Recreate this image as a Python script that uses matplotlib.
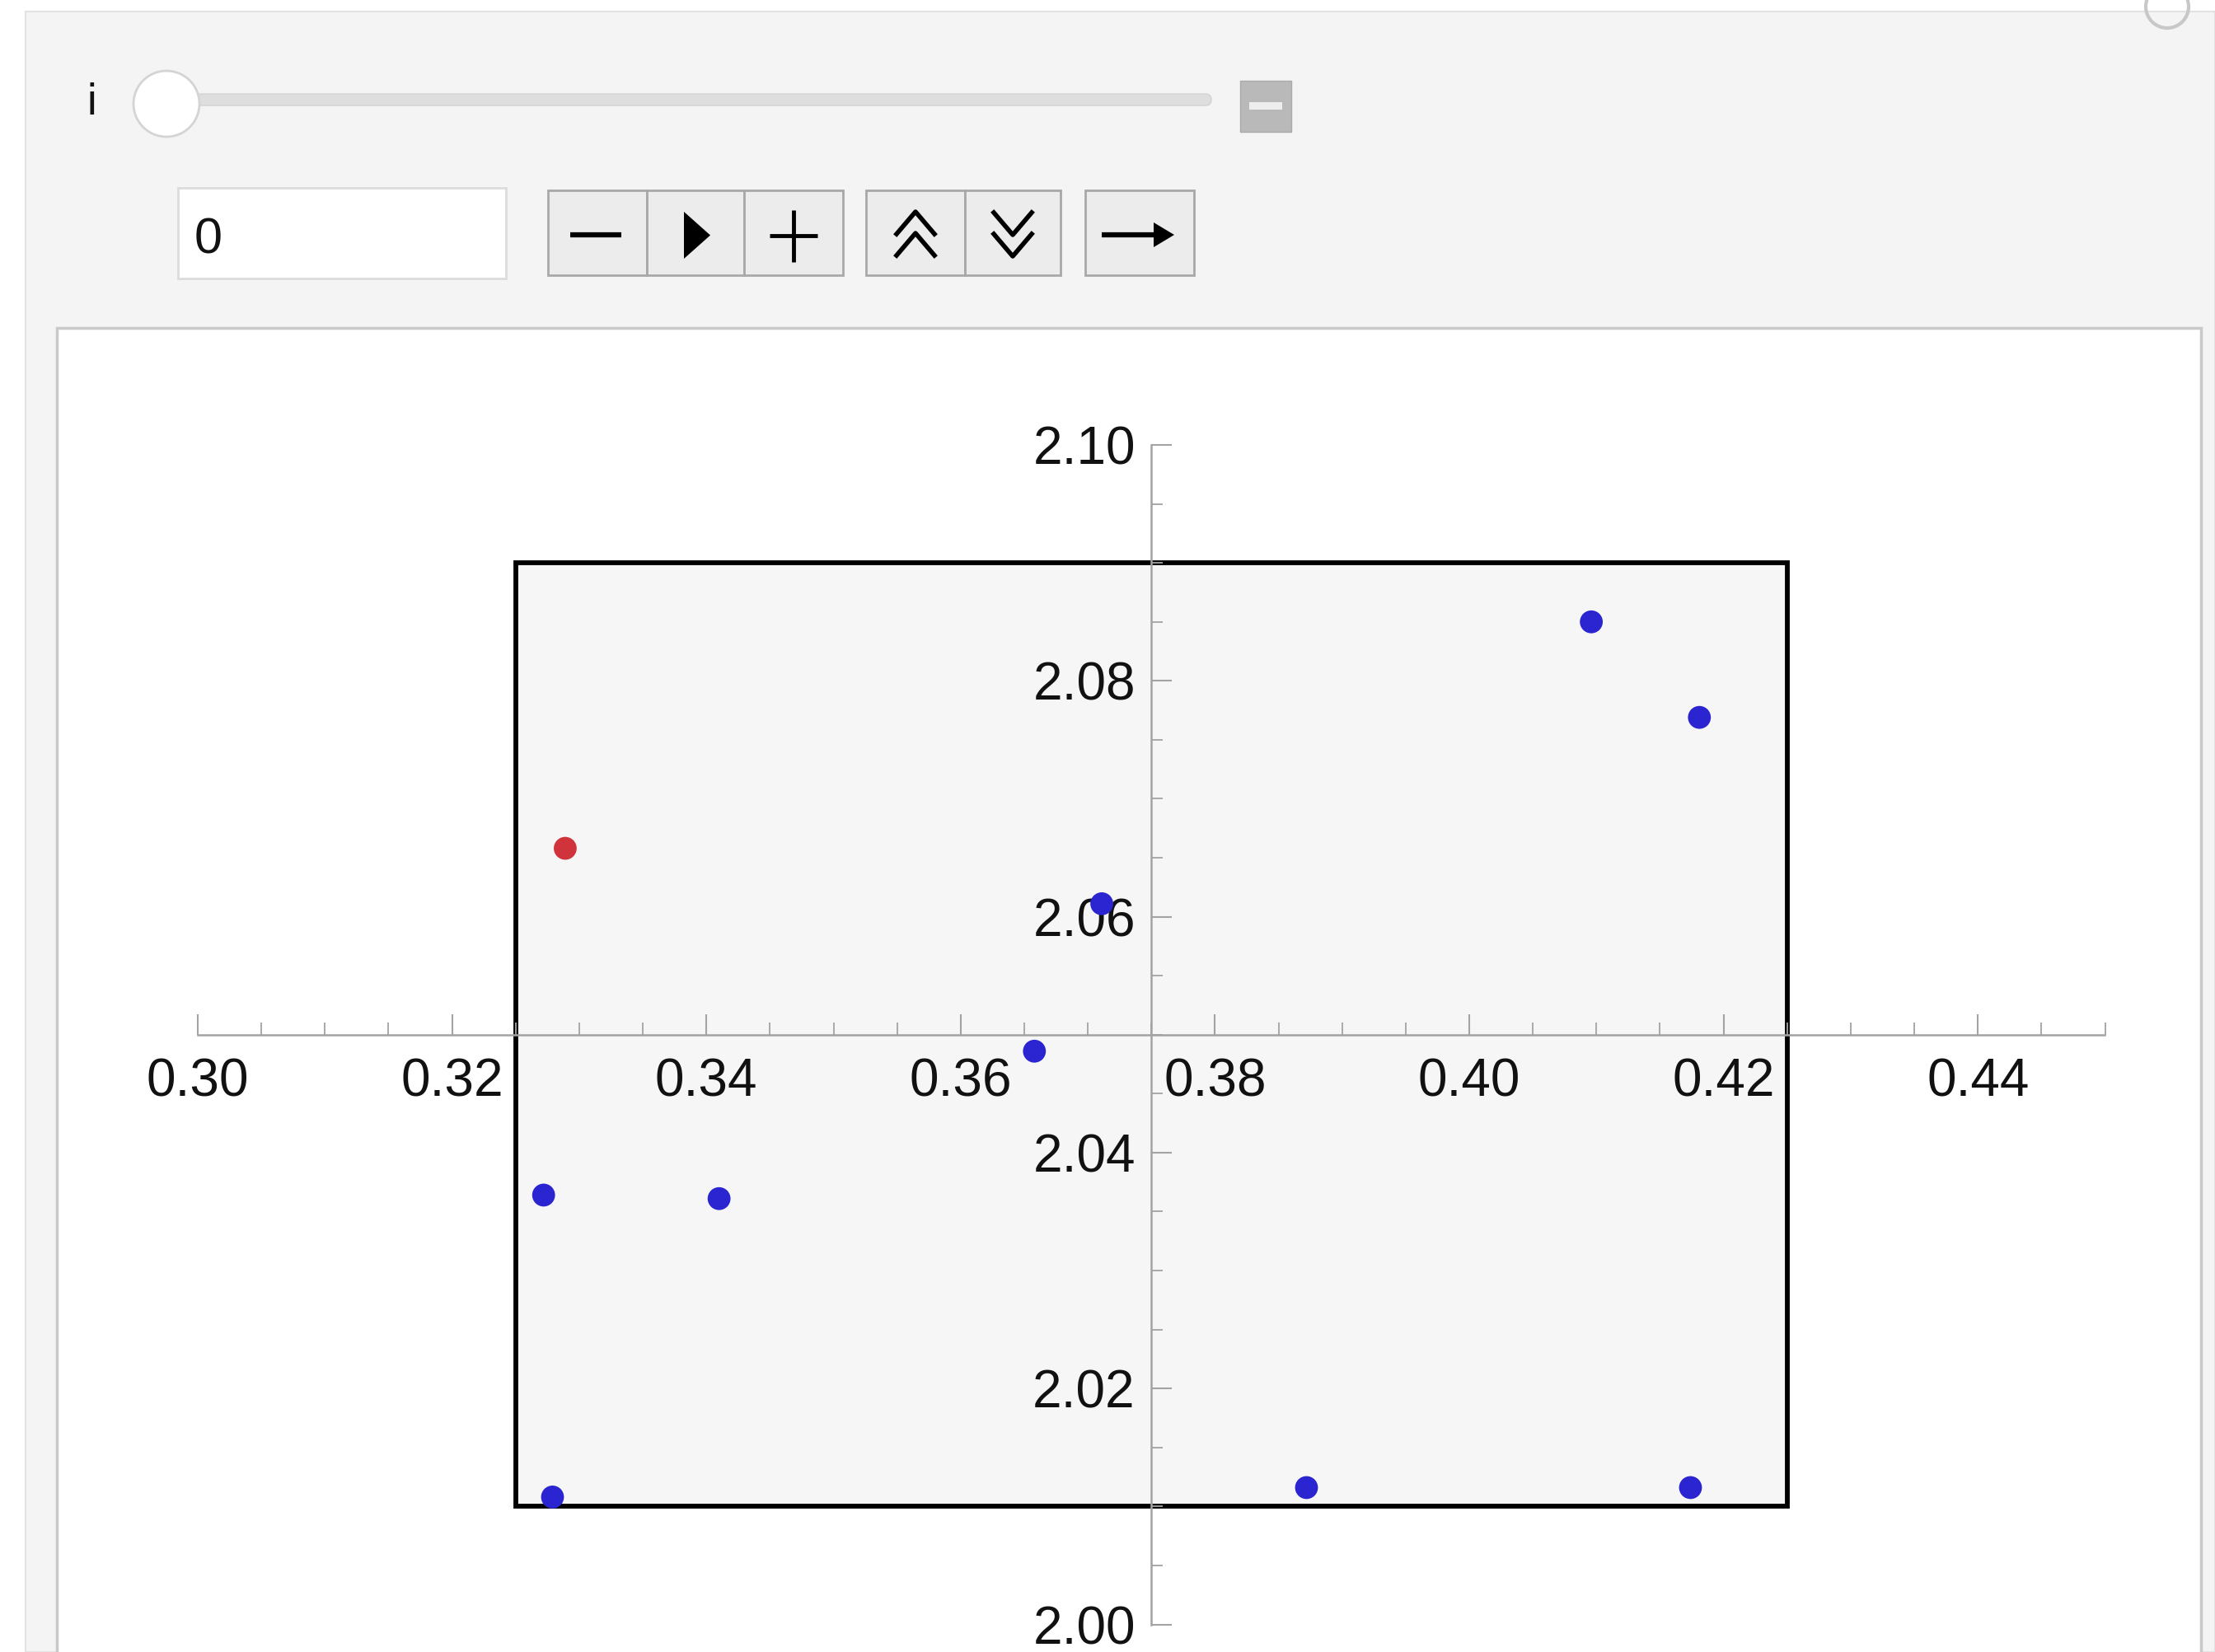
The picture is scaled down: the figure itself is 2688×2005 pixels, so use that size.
import matplotlib
matplotlib.use("Agg")
import matplotlib.pyplot as plt
from matplotlib.patches import Rectangle, Circle, FancyBboxPatch, Polygon
from matplotlib.ticker import MultipleLocator, FormatStrFormatter
import numpy as np

# ---------------- data ----------------
blue_x = [0.4096, 0.4181, 0.3711, 0.3658, 0.3272, 0.3410, 0.3279, 0.3872, 0.4174]
blue_y = [2.0850, 2.0769, 2.0611, 2.0486, 2.0364, 2.0361, 2.0108, 2.0116, 2.0116]
red_x = [0.3289]
red_y = [2.0658]
box_x = [0.325, 0.425]
box_y = [2.01, 2.09]
axes_origin = (0.375, 2.05)
x_range = (0.30, 0.45)
y_range = (2.00, 2.10)
slider_value = "0"
slider_label = "i"

W, H = 2688, 2005
plt.rcParams['font.family'] = ['Liberation Sans', 'DejaVu Sans']
fig = plt.figure(figsize=(W / 100, H / 100), dpi=100)
fig.patch.set_facecolor('white')

# ---------------- UI layer (pixel coordinates) ----------------
ui = fig.add_axes([0, 0, 1, 1], zorder=0)
ui.set_xlim(0, W)
ui.set_ylim(H, 0)
ui.axis('off')

ui.add_patch(Rectangle((31, 14), W - 31, H - 14, facecolor='#f4f4f4', edgecolor='#e2e2e2', lw=1.5))
ui.add_patch(Circle((2630, 8), 26, facecolor='none', edgecolor='#c8c8c8', lw=3))

# slider
ui.text(111, 125, slider_label, fontsize=38, ha='center', va='center', color='#111111')
ui.add_patch(FancyBboxPatch((165, 114), 1305, 14, boxstyle="round,pad=0,rounding_size=7",
                            facecolor='#dedede', edgecolor='#d2d2d2', lw=1))
ui.add_patch(Circle((202, 126), 40, facecolor='white', edgecolor='#d4d4d4', lw=2, zorder=3))
ui.add_patch(Rectangle((1505, 98), 62, 62, facecolor='#b9b9b9', edgecolor='#aaaaaa', lw=1))
ui.add_patch(Rectangle((1516, 124), 40, 9, facecolor='#eeeeee', edgecolor='none'))

# input field
ui.add_patch(Rectangle((216, 228), 398, 110, facecolor='white', edgecolor='#dcdcdc', lw=2))
ui.text(236, 292, slider_value, fontsize=44, ha='left', va='center', color='#111111')

# buttons
btn_kw = dict(facecolor='#ececec', edgecolor='#a8a8a8', lw=2)
for x0, x1 in [(665, 785), (785, 903), (903, 1023), (1051, 1171), (1171, 1287), (1317, 1449)]:
    ui.add_patch(Rectangle((x0, 231), x1 - x0, 103, **btn_kw))
lw_sym = 4.5
# minus
ui.plot([692, 754], [285, 285], color='black', lw=lw_sym, solid_capstyle='butt')
# play triangle
ui.add_patch(Polygon([[830, 257], [830, 314], [862, 285.5]], closed=True, facecolor='black', edgecolor='none'))
# plus
ui.plot([934, 992], [286, 286], color='black', lw=lw_sym - 1, solid_capstyle='butt')
ui.plot([963, 963], [255, 318], color='black', lw=lw_sym - 1, solid_capstyle='butt')
# double chevron up
for dy in (0, 26):
    ui.plot([1088, 1111, 1134], [284 + dy, 257 + dy, 284 + dy], color='black', lw=4)
# double chevron down
for dy in (0, 26):
    ui.plot([1206, 1229, 1252], [258 + dy, 285 + dy, 258 + dy], color='black', lw=4)
# arrow
ui.plot([1337, 1410], [285, 285], color='black', lw=4.5, solid_capstyle='butt')
ui.add_patch(Polygon([[1400, 270], [1425, 285], [1400, 300]], closed=True, facecolor='black', edgecolor='none'))

# plot frame
ui.add_patch(Rectangle((69, 398), 2602, H - 398 + 10, facecolor='white', edgecolor='#c9c9c9', lw=2.5))

# ---------------- main plot ----------------
px_left, px_right = 69, 2671
px_top, px_bottom = 398, H
ax = fig.add_axes([px_left / W, 1 - px_bottom / H, (px_right - px_left) / W, (px_bottom - px_top) / H], zorder=1)
ax.set_facecolor('none')

# pixel->data mapping measured from reference
x0_px, x_per_px = 240, 0.02 / 308.6
y0_px, y_per_px = 540, 0.02 / 286.3
xlim = (0.30 + (px_left - x0_px) * x_per_px, 0.30 + (px_right - x0_px) * x_per_px)
ylim = (2.10 - (px_bottom - y0_px) * y_per_px, 2.10 - (px_top - y0_px) * y_per_px)

for s in ('top', 'right'):
    ax.spines[s].set_visible(False)
ax.spines['left'].set_position(('data', axes_origin[0]))
ax.spines['bottom'].set_position(('data', axes_origin[1]))
ax.spines['left'].set_bounds(*y_range)
ax.spines['bottom'].set_bounds(*x_range)
for s in ('left', 'bottom'):
    ax.spines[s].set_color('#a3a3a3')
    ax.spines[s].set_linewidth(1.8)

ax.xaxis.set_major_formatter(FormatStrFormatter('%.2f'))
ax.yaxis.set_major_formatter(FormatStrFormatter('%.2f'))
ax.set_xticks(np.arange(x_range[0], x_range[1] - 0.005, 0.02))
ax.set_yticks(np.arange(y_range[0], y_range[1] + 1e-9, 0.02))
ax.set_xticks(np.arange(x_range[0], x_range[1] + 1e-9, 0.005), minor=True)
ax.set_yticks(np.arange(y_range[0], y_range[1] + 1e-9, 0.005), minor=True)
ax.set_xlim(*xlim)
ax.set_ylim(*ylim)

ax.tick_params(axis='x', which='major', direction='in', length=18, width=1.5, color='#a3a3a3',
               labelsize=46, pad=20, labelcolor='#111111')
ax.tick_params(axis='x', which='minor', direction='in', length=11, width=1.3, color='#a3a3a3')
ax.tick_params(axis='y', which='major', direction='in', length=18, width=1.5, color='#a3a3a3',
               labelsize=46, pad=14, labelcolor='#111111')
ax.tick_params(axis='y', which='minor', direction='in', length=10, width=1.3, color='#a3a3a3')

ax.add_patch(Rectangle((box_x[0], box_y[0]), box_x[1] - box_x[0], box_y[1] - box_y[0],
                       facecolor='#f6f6f6', edgecolor='black', lw=4.2, zorder=1))

ax.scatter(blue_x, blue_y, s=400, color='#2a25d0', edgecolors='none', zorder=5, clip_on=False)
ax.scatter(red_x, red_y, s=400, color='#d0333b', edgecolors='none', zorder=5, clip_on=False)

fig.savefig('out.png', dpi=100, facecolor='white')
